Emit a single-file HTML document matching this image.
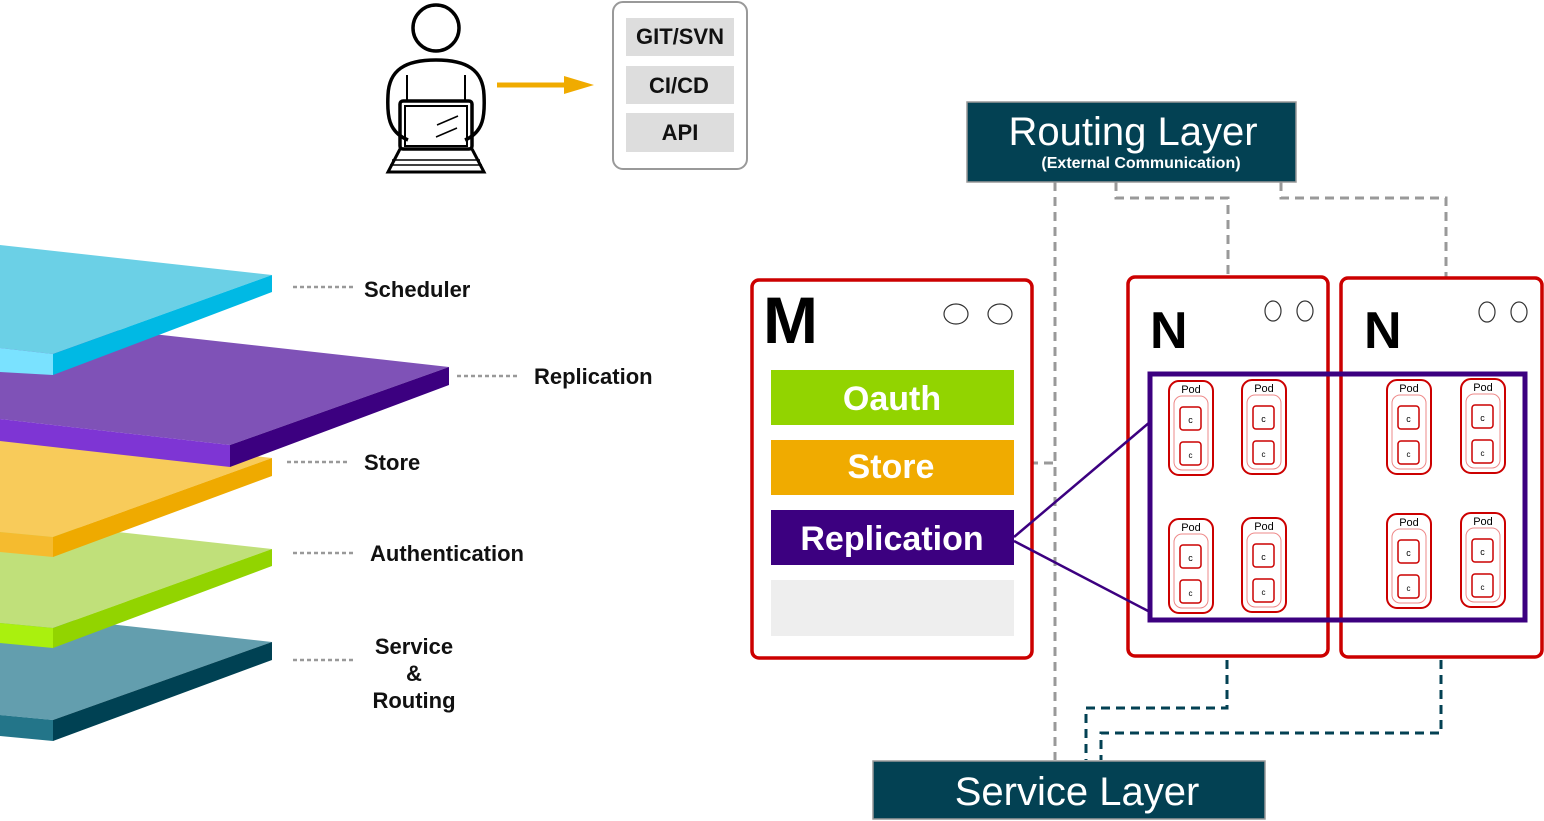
<!DOCTYPE html>
<html><head><meta charset="utf-8"><style>
html,body{margin:0;padding:0;background:#fff;}
svg{display:block;font-family:"Liberation Sans",sans-serif;}
</style></head><body>
<svg width="1544" height="821" viewBox="0 0 1544 821" xmlns="http://www.w3.org/2000/svg">
<defs>
<g id="pod">
<rect x="0" y="0" width="44" height="94" rx="10" fill="#fff" stroke="#cc0000" stroke-width="2"/>
<rect x="5" y="15" width="34" height="74" rx="8" fill="none" stroke="#e88" stroke-width="1"/>
<text x="22" y="12" font-size="11" text-anchor="middle" fill="#000">Pod</text>
<rect x="11" y="26" width="21" height="23" rx="3" fill="#fff" stroke="#cc0000" stroke-width="1.5"/>
<text x="21.5" y="42" font-size="9" text-anchor="middle">c</text>
<rect x="11" y="61" width="21" height="23" rx="3" fill="#fff" stroke="#cc0000" stroke-width="1.5"/>
<text x="21.5" y="77" font-size="8" text-anchor="middle">c</text>
</g>
</defs>

<!-- layers -->
<g>
<polygon points="0,612 272,642 53,720 0,715" fill="#639eae"/>
<polygon points="53,720 272,642 272,660 53,741" fill="#004153"/>
<polygon points="0,715 53,720 53,741 0,736" fill="#237589"/>

<polygon points="0,519 272,549 53,628 0,623" fill="#c0e07a"/>
<polygon points="53,628 272,549 272,566 53,648" fill="#92d400"/>
<polygon points="0,623 53,628 53,648 0,643" fill="#aaf00e"/>

<polygon points="0,428 272,458 53,537 0,532" fill="#f8cb5a"/>
<polygon points="53,537 272,458 272,476 53,557" fill="#efaa00"/>
<polygon points="0,532 53,537 53,557 0,552" fill="#f5bb2f"/>

<polygon points="0,317 449,367 230,445 0,419" fill="#7f52b7"/>
<polygon points="230,445 449,367 449,385 230,467" fill="#3c0080"/>
<polygon points="0,419 230,445 230,467 0,441" fill="#7e35d4"/>

<polygon points="0,245 272,275 53,354 0,348" fill="#6bd0e6"/>
<polygon points="53,354 272,275 272,292 53,375" fill="#00b9e4"/>
<polygon points="0,348 53,354 53,375 0,372" fill="#7ae2ff"/>
</g>

<g stroke="#999" stroke-width="2.5" stroke-dasharray="4 3">
<line x1="293" y1="287" x2="353" y2="287"/>
<line x1="457" y1="376" x2="517" y2="376"/>
<line x1="287" y1="462" x2="347" y2="462"/>
<line x1="293" y1="553" x2="353" y2="553"/>
<line x1="293" y1="660" x2="353" y2="660"/>
</g>
<g font-size="22" font-weight="bold" fill="#111">
<text x="364" y="297">Scheduler</text>
<text x="534" y="384">Replication</text>
<text x="364" y="470">Store</text>
<text x="370" y="561">Authentication</text>
<text x="414" y="654" text-anchor="middle">Service</text>
<text x="414" y="681" text-anchor="middle">&amp;</text>
<text x="414" y="708" text-anchor="middle">Routing</text>
</g>

<!-- person -->
<g fill="none" stroke="#000" stroke-width="3.5">
<circle cx="436" cy="28" r="23"/>
<path d="M408,140 C388,132 387,115 388,95 C389,70 405,60 436,60 C467,60 483,70 484,95 C485,115 484,132 465,140"/>
<rect x="400" y="101" width="72" height="48" rx="3"/>
<rect x="405" y="106" width="62" height="40" stroke-width="2"/>
<path d="M400,149 L388,172 L484,172 L472,149" stroke-width="3"/>
<line x1="407" y1="75" x2="407" y2="101" stroke-width="2"/>
<line x1="465" y1="75" x2="465" y2="101" stroke-width="2"/>
<line x1="392" y1="160" x2="480" y2="160" stroke-width="1.5"/>
<line x1="390" y1="165" x2="482" y2="165" stroke-width="1.5"/>
<line x1="437" y1="125" x2="458" y2="116" stroke-width="1.5"/>
<line x1="436" y1="137" x2="457" y2="128" stroke-width="1.5"/>
</g>
<line x1="497" y1="85" x2="568" y2="85" stroke="#f0ab00" stroke-width="5"/>
<polygon points="564,76 594,85 564,94" fill="#f0ab00"/>

<rect x="613" y="2" width="134" height="167" rx="10" fill="#fff" stroke="#999" stroke-width="2"/>
<rect x="626" y="18" width="108" height="38" fill="#ddd"/>
<rect x="626" y="66" width="108" height="38" fill="#ddd"/>
<rect x="626" y="113" width="108" height="39" fill="#ddd"/>
<g font-size="22" font-weight="bold" fill="#111" text-anchor="middle">
<text x="680" y="44">GIT/SVN</text>
<text x="679" y="93">CI/CD</text>
<text x="680" y="140">API</text>
</g>

<!-- routing layer -->
<rect x="967" y="102" width="329" height="80" fill="#034153" stroke="#999" stroke-width="1.5"/>
<text x="1133" y="145" font-size="40" fill="#fff" text-anchor="middle">Routing Layer</text>
<text x="1141" y="168" font-size="16" font-weight="bold" fill="#fff" text-anchor="middle">(External Communication)</text>

<g fill="none" stroke="#999" stroke-width="3" stroke-dasharray="9 6">
<line x1="1055" y1="182" x2="1055" y2="760"/>
<polyline points="1116,182 1116,198 1228,198 1228,277"/>
<polyline points="1281,182 1281,198 1446,198 1446,277"/>
<polyline points="1014,463 1055,463 1055,475"/>
</g>

<g fill="none" stroke="#034153" stroke-width="3" stroke-dasharray="9 6">
<polyline points="1227,660 1227,708 1086,708 1086,760"/>
<polyline points="1441,660 1441,733 1101,733 1101,760"/>
</g>

<!-- M box -->
<rect x="752" y="280" width="280" height="378" rx="7" fill="#fff" stroke="#cc0000" stroke-width="3.5"/>
<text x="763" y="343" font-size="66" font-weight="bold" fill="#000">M</text>
<ellipse cx="956" cy="314" rx="12" ry="10" fill="none" stroke="#333" stroke-width="1.2"/>
<ellipse cx="1000" cy="314" rx="12" ry="10" fill="none" stroke="#333" stroke-width="1.2"/>
<rect x="771" y="370" width="243" height="55" fill="#92d400"/>
<rect x="771" y="440" width="243" height="55" fill="#f0ab00"/>
<rect x="771" y="510" width="243" height="55" fill="#3c0080"/>
<rect x="771" y="580" width="243" height="56" fill="#eee"/>
<g font-size="34" font-weight="bold" fill="#fff" text-anchor="middle">
<text x="892" y="410">Oauth</text>
<text x="891" y="478">Store</text>
<text x="892" y="550">Replication</text>
</g>

<!-- N boxes -->
<rect x="1128" y="277" width="200" height="379" rx="7" fill="#fff" stroke="#cc0000" stroke-width="3.5"/>
<rect x="1341" y="278" width="201" height="379" rx="7" fill="#fff" stroke="#cc0000" stroke-width="3.5"/>
<text x="1150" y="348" font-size="52" font-weight="bold" fill="#000">N</text>
<text x="1364" y="348" font-size="52" font-weight="bold" fill="#000">N</text>
<g fill="none" stroke="#333" stroke-width="1.2">
<ellipse cx="1273" cy="311" rx="8" ry="10"/>
<ellipse cx="1305" cy="311" rx="8" ry="10"/>
<ellipse cx="1487" cy="312" rx="8" ry="10"/>
<ellipse cx="1519" cy="312" rx="8" ry="10"/>
</g>

<line x1="1014" y1="537" x2="1150" y2="422" stroke="#3c0080" stroke-width="2.5"/>
<line x1="1014" y1="541" x2="1150" y2="612" stroke="#3c0080" stroke-width="2.5"/>
<rect x="1150" y="374" width="375" height="246" fill="none" stroke="#3c0080" stroke-width="5"/>

<use href="#pod" x="1169" y="381"/>
<use href="#pod" x="1242" y="380"/>
<use href="#pod" x="1169" y="519"/>
<use href="#pod" x="1242" y="518"/>
<use href="#pod" x="1387" y="380"/>
<use href="#pod" x="1461" y="379"/>
<use href="#pod" x="1387" y="514"/>
<use href="#pod" x="1461" y="513"/>

<!-- service layer -->
<rect x="873" y="761" width="392" height="58" fill="#034153" stroke="#999" stroke-width="1.5"/>
<text x="1077" y="805" font-size="40" fill="#fff" text-anchor="middle">Service Layer</text>
</svg>
</body></html>
